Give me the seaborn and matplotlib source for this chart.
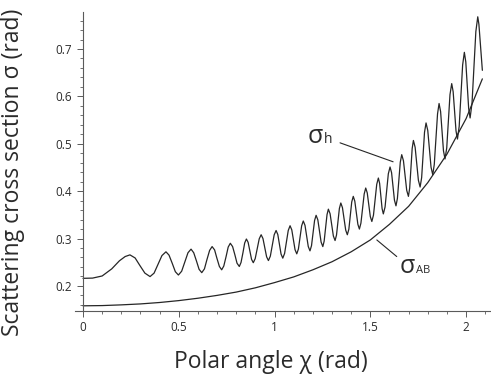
import matplotlib
matplotlib.use("Agg")
import matplotlib.pyplot as plt
from matplotlib.ticker import MultipleLocator, FixedLocator
import seaborn as sns

# --- DATA ---
# Aharonov-Bohm cross section (smooth curve)
chi_ab = [0.0, 0.1, 0.2, 0.3, 0.4, 0.5, 0.6, 0.7, 0.8, 0.9, 1.0,
          1.1, 1.2, 1.3, 1.4, 1.5, 1.6, 1.7, 1.8, 1.9, 2.0, 2.085]
sigma_ab = [0.158, 0.1585, 0.160, 0.162, 0.165, 0.169, 0.174, 0.180, 0.187, 0.196, 0.207,
            0.219, 0.234, 0.251, 0.272, 0.297, 0.330, 0.368, 0.418, 0.478, 0.553, 0.637]

# oscillating cross section sigma_h
chi_h = [
    0.000, 0.050, 0.100, 0.150, 0.190, 0.220, 0.245, 0.272, 0.297, 0.323,
    0.350, 0.371, 0.392, 0.412, 0.433, 0.449, 0.466, 0.482, 0.498, 0.515,
    0.531, 0.548, 0.564, 0.578, 0.592, 0.606, 0.620, 0.634, 0.647, 0.661,
    0.674, 0.687, 0.699, 0.712, 0.724, 0.735, 0.747, 0.758, 0.769, 0.781,
    0.793, 0.804, 0.816, 0.825, 0.835, 0.844, 0.853, 0.862, 0.871, 0.880,
    0.889, 0.899, 0.920, 0.930, 0.9395, 0.9585, 0.968, 0.978, 0.998, 1.008,
    1.017, 1.034, 1.043, 1.0525, 1.0715, 1.081, 1.090, 1.107, 1.116, 1.1245,
    1.1415, 1.150, 1.159, 1.176, 1.185, 1.193, 1.209, 1.217, 1.226, 1.243,
    1.252, 1.259, 1.274, 1.281, 1.290, 1.307, 1.316, 1.3235, 1.3385, 1.346,
    1.3545, 1.3715, 1.380, 1.388, 1.403, 1.411, 1.419, 1.435, 1.443, 1.451,
    1.468, 1.476, 1.484, 1.500, 1.508, 1.5165, 1.5335, 1.542, 1.5485, 1.5615,
    1.568, 1.577, 1.594, 1.603, 1.611, 1.626, 1.634, 1.6415, 1.6565, 1.664,
    1.673, 1.690, 1.699, 1.7055, 1.7185, 1.725, 1.734, 1.751, 1.760, 1.768,
    1.783, 1.791, 1.800, 1.817, 1.826, 1.834, 1.851, 1.859, 1.867, 1.882,
    1.890, 1.899, 1.916, 1.925, 1.9325, 1.9475, 1.955, 1.964, 1.982, 1.991,
    1.9985, 2.0135, 2.021, 2.031, 2.051, 2.061, 2.067, 2.085,
]
sigma_h = [
    0.216, 0.2165, 0.221, 0.236, 0.253, 0.262, 0.2655, 0.259, 0.243, 0.227,
    0.2197, 0.227, 0.246, 0.264, 0.272, 0.265, 0.2475, 0.230, 0.223, 0.231,
    0.250, 0.270, 0.2776, 0.270, 0.253, 0.235, 0.228, 0.236, 0.2555, 0.275,
    0.283, 0.276, 0.2585, 0.241, 0.234, 0.242, 0.262, 0.282, 0.290, 0.283,
    0.2655, 0.248, 0.241, 0.2495, 0.270, 0.2905, 0.299, 0.292, 0.274, 0.256,
    0.249, 0.2576, 0.2994, 0.308, 0.3000, 0.2615, 0.2535, 0.2628, 0.3077, 0.317,
    0.3085, 0.2671, 0.2586, 0.2686, 0.3170, 0.327, 0.3183, 0.2764, 0.2677, 0.2778,
    0.3269, 0.337, 0.3278, 0.2832, 0.274, 0.2850, 0.3381, 0.349, 0.3394, 0.2926,
    0.283, 0.2945, 0.3505, 0.362, 0.3523, 0.3055, 0.2958, 0.3074, 0.3634, 0.375,
    0.3652, 0.3178, 0.308, 0.3198, 0.3772, 0.389, 0.3789, 0.3301, 0.320, 0.3326,
    0.3940, 0.4066, 0.3963, 0.3463, 0.336, 0.3494, 0.4143, 0.4277, 0.4167, 0.3631,
    0.352, 0.3665, 0.4365, 0.451, 0.4390, 0.3810, 0.369, 0.3848, 0.4612, 0.477,
    0.4642, 0.4018, 0.389, 0.4062, 0.4898, 0.507, 0.4926, 0.4231, 0.4087, 0.4285,
    0.5242, 0.544, 0.5280, 0.4507, 0.4347, 0.4566, 0.5631, 0.585, 0.5679, 0.4851,
    0.468, 0.4912, 0.6038, 0.627, 0.6099, 0.5271, 0.510, 0.5367, 0.6663, 0.693,
    0.6728, 0.5747, 0.5545, 0.5857, 0.7368, 0.768, 0.752, 0.655,
]

x_ticks = [0, 0.5, 1, 1.5, 2]
x_ticklabels = ["0", "0.5", "1", "1.5", "2"]
y_ticks = [0.2, 0.3, 0.4, 0.5, 0.6, 0.7]
y_ticklabels = ["0.2", "0.3", "0.4", "0.5", "0.6", "0.7"]

LINE_COLOR = "#262626"
TICK_COLOR = "#5a5a5a"
TEXT_COLOR = "#2b2b2b"

sns.set_theme(style="ticks")
plt.rcParams['font.family'] = ['Open Sans', 'DejaVu Sans']

fig = plt.figure(figsize=(4.91, 3.77), dpi=100)
ax = fig.add_axes([0.1527, 0.175, 0.998 - 0.1527, 0.968 - 0.175])

sns.lineplot(x=chi_h, y=sigma_h, ax=ax, color=LINE_COLOR, lw=0.9,
             sort=False, estimator=None)
sns.lineplot(x=chi_ab, y=sigma_ab, ax=ax, color=LINE_COLOR, lw=0.9,
             sort=False, estimator=None)

ax.set_xlim(-0.042, 2.125)
ax.set_ylim(0.147, 0.778)

# axes styling
ax.spines['top'].set_visible(False)
ax.spines['right'].set_visible(False)
ax.spines['left'].set_position(('data', 0))
for s in ('left', 'bottom'):
    ax.spines[s].set_color(TICK_COLOR)
    ax.spines[s].set_linewidth(0.8)

ax.xaxis.set_major_locator(FixedLocator(x_ticks))
ax.set_xticklabels(x_ticklabels)
ax.xaxis.set_minor_locator(MultipleLocator(0.1))
ax.yaxis.set_major_locator(FixedLocator(y_ticks))
ax.set_yticklabels(y_ticklabels)
ax.yaxis.set_minor_locator(MultipleLocator(0.02))

ax.tick_params(which='major', direction='out', length=4, width=0.7,
               color=TICK_COLOR, labelsize=8.5, labelcolor=TEXT_COLOR, pad=3)
ax.tick_params(which='minor', direction='out', length=2.5, width=0.6,
               color=TICK_COLOR)
ax.tick_params(axis='y', which='major', pad=4)

# curve labels with pointer lines
ax.text(1.175, 0.502, "σ", fontsize=18, color=TEXT_COLOR, va='baseline', ha='left')
ax.text(1.258, 0.502, "h", fontsize=10, color=TEXT_COLOR, va='baseline', ha='left')
ax.annotate("", xy=(1.619, 0.462), xytext=(1.342, 0.502),
            arrowprops=dict(arrowstyle='-', color=LINE_COLOR, lw=0.8,
                            shrinkA=0, shrinkB=0))

ax.text(1.655, 0.2275, "σ", fontsize=18, color=TEXT_COLOR, va='baseline', ha='left')
ax.text(1.739, 0.2275, "AB", fontsize=8, color=TEXT_COLOR, va='baseline', ha='left')
ax.annotate("", xy=(1.638, 0.262), xytext=(1.534, 0.297),
            arrowprops=dict(arrowstyle='-', color=LINE_COLOR, lw=0.8,
                            shrinkA=0, shrinkB=0))

# axis titles
fig.text(271 / 491, 1 - 362 / 377, "Polar angle χ (rad)", fontsize=16.5,
         color=TEXT_COLOR, ha='center', va='center')
fig.text(13 / 491, 1 - 172 / 377, "Scattering cross section σ (rad)", fontsize=16.5,
         color=TEXT_COLOR, ha='center', va='center', rotation=90)

fig.savefig("out.png", dpi=100)
